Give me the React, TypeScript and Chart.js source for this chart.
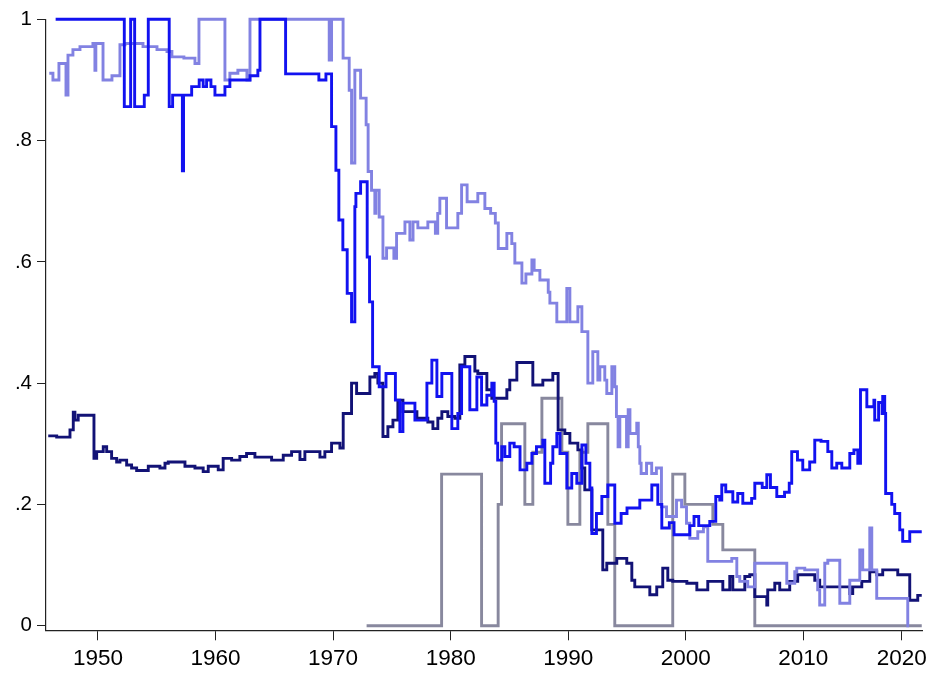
import React, { useEffect, useRef } from "react";
import { Chart, registerables } from "chart.js";

Chart.register(...registerables);

// ---- data (x in years, y shares) ----
const X_TICKS = [1950, 1960, 1970, 1980, 1990, 2000, 2010, 2018.37];
const X_TICK_LABELS = ["1950", "1960", "1970", "1980", "1990", "2000", "2010", "2020"];
const Y_TICKS = [0, 0.2, 0.4, 0.6, 0.8, 1];
const Y_TICK_LABELS = ["0", ".2", ".4", ".6", ".8", "1"];

const BLUE_YEARS = [1946.40,1952.24,1952.78,1953.12,1953.94,1954.28,1956.06,1956.35,1957.18,1957.28,1957.97,1958.61,1958.95,1959.24,1959.61,1959.95,1960.80,1961.22,1962.93,1963.60,1963.78,1965.96,1968.79,1969.39,1969.87,1970.24,1970.49,1970.83,1971.20,1971.57,1971.85,1971.94,1972.34,1972.90,1973.10,1973.36,1973.92,1974.50,1975.30,1975.68,1975.94,1976.96,1977.98,1978.40,1978.83,1979.25,1980.10,1980.61,1980.93,1981.63,1982.23,1982.63,1983.08,1983.50,1983.70,1983.84,1984.00,1984.35,1984.61,1985.03,1985.40,1985.90,1986.48,1986.91,1987.30,1987.84,1988.01,1988.50,1988.69,1989.03,1989.30,1989.88,1990.30,1990.73,1991.16,1991.50,1991.84,1992.01,1992.40,1992.86,1993.37,1993.96,1994.50,1995.00,1996.09,1997.11,1997.62,1997.96,1998.60,1999.00,2000.34,2000.70,2001.10,2002.04,2002.55,2002.89,2003.06,2003.40,2004.00,2004.42,2004.85,2005.60,2005.87,2006.50,2006.89,2007.20,2007.74,2008.40,2008.80,2009.01,2009.50,2009.95,2010.54,2010.97,2011.50,2012.08,2012.42,2012.84,2013.27,2013.95,2014.30,2014.63,2014.86,2015.40,2016.00,2016.07,2016.40,2016.70,2016.75,2016.92,2017.00,2017.52,2017.77,2018.20,2018.45,2019.05,2020.07];
const BLUE_VALUES = [1.0,0.856,1.0,0.856,0.875,1.0,0.856,0.875,0.75,0.875,0.889,0.9,0.889,0.9,0.889,0.875,0.889,0.9,0.907,0.916,1.0,0.91,0.9,0.91,0.823,0.751,0.669,0.62,0.548,0.501,0.691,0.713,0.732,0.608,0.534,0.427,0.394,0.416,0.372,0.32,0.367,0.339,0.40,0.438,0.378,0.416,0.325,0.35,0.427,0.356,0.41,0.364,0.38,0.40,0.37,0.301,0.273,0.295,0.279,0.301,0.295,0.257,0.268,0.284,0.295,0.306,0.235,0.268,0.295,0.317,0.284,0.227,0.251,0.235,0.298,0.268,0.227,0.152,0.185,0.213,0.232,0.169,0.185,0.194,0.207,0.232,0.20,0.161,0.17,0.15,0.165,0.18,0.165,0.172,0.213,0.207,0.232,0.221,0.204,0.218,0.202,0.21,0.235,0.228,0.249,0.228,0.213,0.22,0.235,0.287,0.273,0.257,0.27,0.306,0.304,0.287,0.26,0.268,0.26,0.284,0.29,0.268,0.389,0.361,0.372,0.339,0.368,0.35,0.378,0.35,0.218,0.20,0.185,0.158,0.139,0.155,0.155];

const LIGHT_YEARS = [1945.86,1946.17,1946.68,1947.28,1947.45,1947.87,1948.47,1949.57,1949.74,1949.82,1950.43,1951.19,1951.87,1952.30,1953.83,1955.02,1955.87,1956.29,1957.31,1958.25,1958.59,1960.80,1961.22,1961.90,1962.67,1962.93,1969.67,1969.87,1970.85,1971.37,1971.57,1971.85,1972.34,1972.81,1972.98,1973.27,1973.55,1973.64,1973.92,1974.24,1974.55,1975.17,1975.40,1976.11,1976.53,1976.80,1977.21,1978.06,1978.70,1978.90,1979.08,1979.65,1980.61,1980.93,1981.40,1982.31,1982.91,1983.40,1983.80,1984.05,1984.78,1985.20,1985.46,1986.06,1986.40,1986.91,1987.10,1987.59,1988.30,1988.44,1989.03,1989.88,1990.14,1990.82,1991.16,1991.67,1992.09,1992.52,1992.69,1993.11,1993.28,1993.71,1993.96,1994.10,1994.24,1994.39,1994.96,1995.10,1995.25,1995.83,1995.96,1996.09,1996.20,1996.66,1997.10,1997.50,1997.93,1998.36,1999.21,1999.64,2000.06,2000.34,2001.02,2001.50,2001.87,2003.91,2004.34,2004.59,2005.27,2005.87,2008.59,2009.27,2009.44,2010.12,2011.22,2011.39,2011.82,2012.08,2013.10,2013.95,2014.80,2015.05,2015.65,2015.82,2016.24,2018.88,2019.00];
const LIGHT_VALUES = [0.911,0.90,0.927,0.875,0.941,0.95,0.955,0.96,0.916,0.96,0.90,0.907,0.958,0.96,0.955,0.95,0.947,0.938,0.936,0.927,1.0,0.90,0.911,0.916,0.90,1.0,0.933,1.0,0.936,0.883,0.763,0.916,0.87,0.826,0.749,0.718,0.68,0.718,0.674,0.606,0.623,0.606,0.647,0.666,0.636,0.666,0.656,0.666,0.647,0.68,0.705,0.656,0.68,0.727,0.699,0.713,0.688,0.68,0.664,0.622,0.647,0.63,0.598,0.565,0.58,0.603,0.586,0.57,0.55,0.532,0.501,0.556,0.501,0.526,0.485,0.40,0.452,0.405,0.427,0.405,0.383,0.427,0.394,0.345,0.295,0.345,0.295,0.356,0.317,0.334,0.295,0.268,0.251,0.268,0.251,0.26,0.196,0.18,0.207,0.196,0.169,0.144,0.155,0.163,0.106,0.111,0.081,0.073,0.064,0.103,0.07,0.089,0.095,0.092,0.059,0.034,0.103,0.108,0.037,0.075,0.125,0.092,0.161,0.092,0.045,0,0];

const NAVY_YEARS = [1945.77,1946.49,1947.62,1947.90,1948.04,1948.32,1949.66,1949.89,1950.45,1950.74,1951.16,1951.59,1951.87,1952.44,1952.86,1953.29,1954.28,1955.27,1955.70,1955.98,1957.40,1958.25,1958.95,1959.38,1960.23,1960.65,1961.37,1962.07,1962.64,1963.35,1964.77,1965.76,1966.47,1967.18,1967.60,1968.88,1969.30,1969.87,1970.58,1970.86,1971.57,1972.00,1973.13,1973.55,1973.81,1974.24,1974.66,1975.09,1975.51,1975.94,1977.13,1978.06,1978.49,1978.91,1979.25,1979.76,1980.36,1980.78,1981.21,1982.06,1982.31,1983.08,1983.50,1984.78,1985.03,1985.63,1986.99,1987.84,1988.69,1989.14,1989.71,1990.14,1990.82,1991.16,1991.41,1992.01,1992.94,1993.28,1994.13,1994.98,1995.41,1995.66,1996.94,1997.53,1998.04,1998.47,1998.89,2000.09,2000.94,2001.87,2003.15,2003.74,2004.00,2005.02,2005.44,2005.87,2006.89,2006.97,2007.57,2007.99,2008.84,2009.52,2010.97,2011.39,2013.95,2014.20,2014.97,2015.65,2016.24,2016.75,2018.03,2019.05,2019.73,2020.07];
const NAVY_VALUES = [0.313,0.311,0.323,0.352,0.339,0.347,0.276,0.287,0.295,0.287,0.276,0.27,0.273,0.265,0.26,0.256,0.263,0.26,0.268,0.27,0.263,0.26,0.254,0.263,0.257,0.276,0.273,0.279,0.284,0.278,0.273,0.281,0.287,0.274,0.287,0.278,0.287,0.301,0.293,0.35,0.40,0.383,0.41,0.416,0.40,0.312,0.328,0.339,0.372,0.353,0.342,0.336,0.325,0.342,0.353,0.345,0.342,0.43,0.444,0.42,0.416,0.389,0.375,0.389,0.405,0.434,0.397,0.405,0.416,0.323,0.317,0.301,0.29,0.26,0.224,0.158,0.092,0.103,0.111,0.103,0.075,0.064,0.051,0.064,0.095,0.075,0.073,0.07,0.059,0.073,0.059,0.081,0.059,0.081,0.084,0.048,0.034,0.059,0.07,0.059,0.073,0.084,0.075,0.064,0.053,0.064,0.073,0.089,0.084,0.092,0.084,0.042,0.05,0.05];

const GRAY_YEARS = [1972.85,1979.23,1982.63,1984.04,1984.33,1986.31,1986.99,1987.76,1989.46,1989.97,1990.99,1991.67,1993.37,1993.96,1998.89,1999.92,2002.30,2003.15,2005.87,2020.07];
const GRAY_VALUES = [0,0.25,0,0.2,0.333,0.2,0.286,0.375,0.286,0.167,0.286,0.333,0.167,0,0.25,0.2,0.167,0.125,0,0];

const X_MIN = 1945.58;
const X_MAX = 2020.15;
const Y_MIN = -0.0076;
const Y_MAX = 1;

const toPoints = (xs: number[], ys: number[]) => xs.map((x, i) => ({ x, y: ys[i] }));

const FONT = "'Liberation Sans', Arial, 'DejaVu Sans', sans-serif";

export default function App() {
  const ref = useRef<HTMLCanvasElement | null>(null);

  useEffect(() => {
    document.body.style.margin = "0";
    const canvas = ref.current;
    if (!canvas) return;
    const mk = (label: string, xs: number[], ys: number[], color: string) => ({
      label,
      data: toPoints(xs, ys),
      borderColor: color,
      backgroundColor: color,
      borderWidth: 2.9,
      pointRadius: 0,
      stepped: true as const,
      fill: false,
      clip: false as const,
      borderJoinStyle: "miter" as const,
    });
    const chart = new Chart(canvas, {
      type: "line",
      data: {
        datasets: [
          mk("blue", BLUE_YEARS, BLUE_VALUES, "rgb(18,18,240)"),
          mk("light", LIGHT_YEARS, LIGHT_VALUES, "rgb(130,130,226)"),
          mk("navy", NAVY_YEARS, NAVY_VALUES, "rgb(18,18,118)"),
          mk("gray", GRAY_YEARS, GRAY_VALUES, "rgb(136,136,158)"),
        ] as any,
      },
      options: {
        responsive: false,
        animation: false,
        devicePixelRatio: 1,
        layout: { padding: { top: 19.3, right: 9, bottom: 0, left: 0 } },
        plugins: { legend: { display: false }, tooltip: { enabled: false } },
        elements: { point: { radius: 0 } },
        scales: {
          x: {
            type: "linear",
            min: X_MIN,
            max: X_MAX,
            afterFit: (s: any) => {
              s.height = 42.7;
            },
            afterBuildTicks: (s: any) => {
              s.ticks = X_TICKS.map((v) => ({ value: v }));
            },
            ticks: {
              autoSkip: false,
              maxRotation: 0,
              padding: 5,
              color: "#000",
              font: { family: FONT, size: 22.5 },
              callback: (_v: any, i: number) => X_TICK_LABELS[i],
            },
            grid: { drawOnChartArea: false, drawTicks: true, tickLength: 10, color: "#222", lineWidth: 1 },
            border: { display: true, color: "#222", width: 1.2 },
          },
          y: {
            type: "linear",
            min: Y_MIN,
            max: Y_MAX,
            afterFit: (s: any) => {
              s.width = 46;
            },
            afterBuildTicks: (s: any) => {
              s.ticks = Y_TICKS.map((v) => ({ value: v }));
            },
            ticks: {
              autoSkip: false,
              padding: 5,
              color: "#000",
              font: { family: FONT, size: 20.5 },
              callback: (_v: any, i: number) => Y_TICK_LABELS[i],
            },
            grid: { drawOnChartArea: false, drawTicks: true, tickLength: 9, color: "#222", lineWidth: 1 },
            border: { display: true, color: "#222", width: 1.2 },
          },
        },
      } as any,
    });
    return () => chart.destroy();
  }, []);

  return (
    <div style={{ width: 932, height: 673, background: "#fff" }}>
      <canvas ref={ref} width={932} height={673} style={{ display: "block" }} />
    </div>
  );
}
